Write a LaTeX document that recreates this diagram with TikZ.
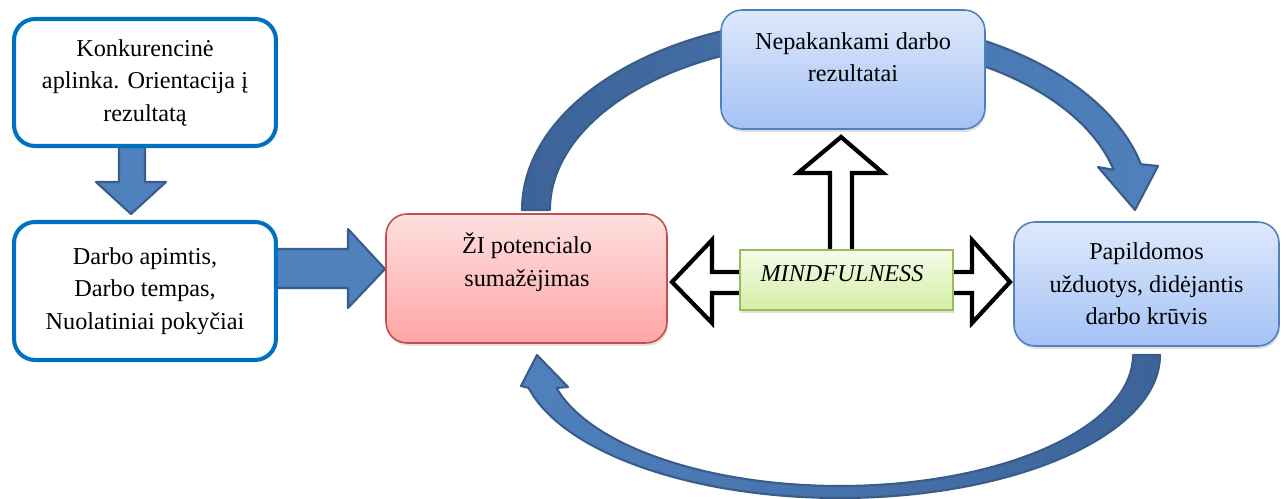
\documentclass[tikz,border=0pt]{standalone}
\usepackage{fontspec}
\setmainfont{Liberation Serif}
\usetikzlibrary{shadows}
\definecolor{boxblue}{HTML}{0070C0}
\definecolor{arrfill}{HTML}{4F81BD}
\definecolor{arrdark}{HTML}{3D6398}
\definecolor{arrline}{HTML}{385D8A}
\definecolor{redline}{HTML}{C0504D}
\definecolor{redtop}{HTML}{FFE0E0}
\definecolor{redbot}{HTML}{FFA6A6}
\definecolor{bluetop}{HTML}{DEE8FB}
\definecolor{bluebot}{HTML}{A4C2F6}
\definecolor{blueline}{HTML}{4F81BD}
\definecolor{greenline}{HTML}{9BBB59}
\definecolor{greentop}{HTML}{F5FBEA}
\definecolor{greenbot}{HTML}{D4EFA4}
\begin{document}
\begin{tikzpicture}[x=0.02cm, y=-0.02cm,
	txt/.style={font=\fontsize{13.8}{18.5}\selectfont, align=center},
	whitebox/.style={txt, draw=boxblue, fill=white, line width=2.3pt, rounded corners=0.42cm},
	shadebox/.style={rounded corners=0.42cm, line width=0.9pt,
		drop shadow={opacity=0.25, shadow xshift=0.6pt, shadow yshift=-1.6pt}},
	redbox/.style={shadebox, draw=redline, top color=redtop, bottom color=redbot},
	bluebox/.style={shadebox, draw=blueline, top color=bluetop, bottom color=bluebot},
	blockarr/.style={draw=arrline, line width=1.2pt, line join=round},
	hollowarr/.style={draw=black, fill=white, line width=2.4pt, line join=miter}]
	\useasboundingbox (0,0) rectangle (1286,499);
	% block arrows on the left
	\draw[blockarr, fill=arrfill] (119,147) -- (145,147) -- (145,182) -- (166,182) -- (131,214) -- (96,182) -- (119,182) -- cycle;
	\draw[blockarr, fill=arrfill] (276,249) -- (348,249) -- (348,229) -- (385,269) -- (348,308) -- (348,288) -- (276,288) -- cycle;
	% curved arrows
	\draw[blockarr, left color=arrdark, right color=arrfill]
		(522,210) arc[start angle=180, end angle=346.2, x radius=314, y radius=192]
		-- (1158,166) -- (1135,210) -- (1098,167) -- (1113.7,169.9)
		arc[start angle=346.2, end angle=180, x radius=286, y radius=168] -- cycle;
	\draw[blockarr, left color=arrfill, right color=arrdark]
		(1160,355) arc[start angle=0, end angle=166.7, x radius=320, y radius=143]
		-- (521,386) -- (537,355) -- (568,387) -- (556.5,388)
		arc[start angle=165.4, end angle=0, x radius=293, y radius=131] -- cycle;
	% boxes
	\node[whitebox, minimum width=5.24cm, minimum height=2.54cm] (konk) at (145,82.5)
		{Konkurencinė\\aplinka. Orientacija į\\rezultatą};
	\node[whitebox, minimum width=5.24cm, minimum height=2.76cm] (darbas) at (145,291)
		{Darbo apimtis,\\ Darbo tempas,\\Nuolatiniai pokyčiai};
	\node[redbox, minimum width=5.62cm, minimum height=2.58cm] (zi) at (526.5,278.5) {};
	\node[txt] (zi-txt) at (527,262) {ŽI potencialo\\sumažėjimas};
	\node[bluebox, minimum width=5.28cm, minimum height=2.38cm] (nepak) at (853,69.5) {};
	\node[txt] (nepak-txt) at (853,57) {Nepakankami darbo\\rezultatai};
	\node[bluebox, txt, minimum width=5.30cm, minimum height=2.48cm] (papild) at (1146.5,284)
		{Papildomos\\užduotys, didėjantis\\darbo krūvis};
	% mindfulness arrows
	\draw[hollowarr] (672,282) -- (712,240) -- (712,272) -- (830,272) -- (830,173) -- (798,173) -- (841,137)
		-- (883,173) -- (852,173) -- (852,272) -- (972,272) -- (972,240) -- (1010,282) -- (972,323)
		-- (972,293) -- (712,293) -- (712,323) -- cycle;
	\node[shadebox, rounded corners=0pt, line width=1.1pt, draw=greenline, top color=greentop, bottom color=greenbot,
		minimum width=4.26cm, minimum height=1.2cm] (mind) at (846.5,280) {};
	\node[txt, font=\fontsize{13.8}{18.5}\selectfont\itshape] (mind-txt) at (842,274) {MINDFULNESS};
\end{tikzpicture}
\end{document}
